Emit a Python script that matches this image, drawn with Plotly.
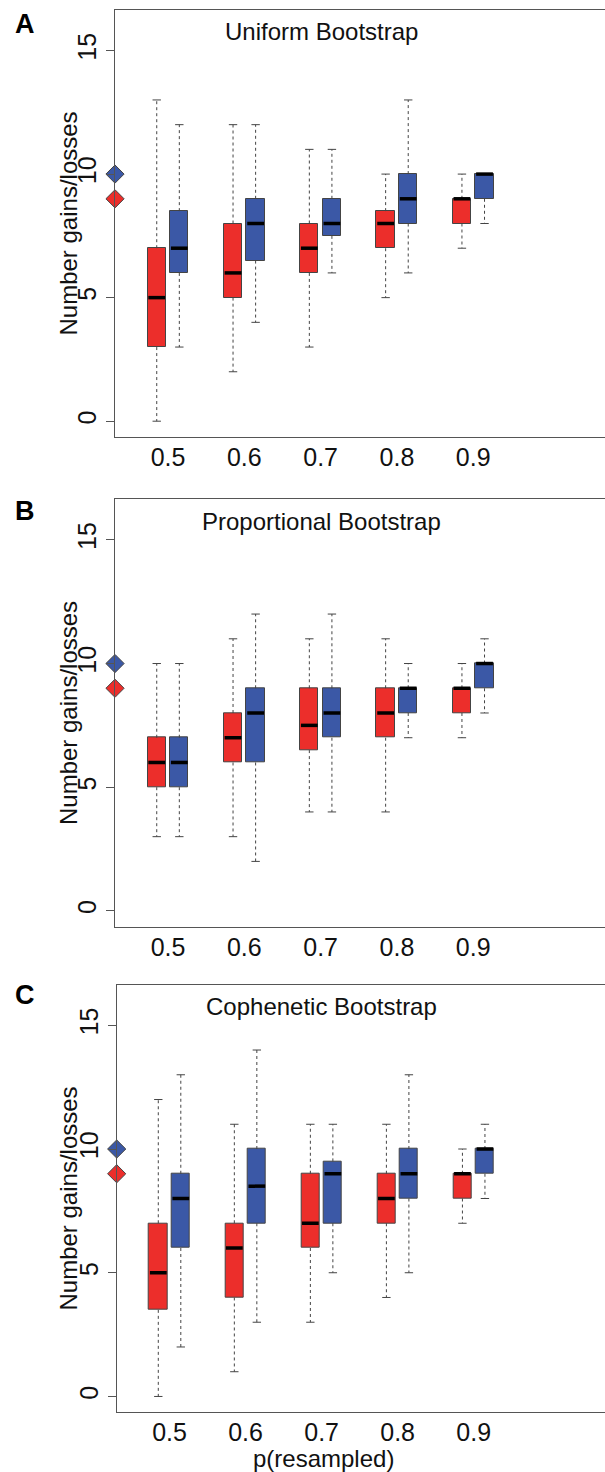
import plotly.graph_objects as go

# ---------------- data ----------------
groups = ["0.5", "0.6", "0.7", "0.8", "0.9"]
panel_titles = ["Uniform Bootstrap", "Proportional Bootstrap", "Cophenetic Bootstrap"]
panel_letters = ["A", "B", "C"]

# Uniform bootstrap (A)
A_red_min = [0, 2, 3, 5, 7]
A_red_q1 = [3, 5, 6, 7, 8]
A_red_med = [5, 6, 7, 8, 9]
A_red_q3 = [7, 8, 8, 8.5, 9]
A_red_max = [13, 12, 11, 10, 10]
A_blue_min = [3, 4, 6, 6, 8]
A_blue_q1 = [6, 6.5, 7.5, 8, 9]
A_blue_med = [7, 8, 8, 9, 10]
A_blue_q3 = [8.5, 9, 9, 10, 10]
A_blue_max = [12, 12, 11, 13, 10]

# Proportional bootstrap (B)
B_red_min = [3, 3, 4, 4, 7]
B_red_q1 = [5, 6, 6.5, 7, 8]
B_red_med = [6, 7, 7.5, 8, 9]
B_red_q3 = [7, 8, 9, 9, 9]
B_red_max = [10, 11, 11, 11, 10]
B_blue_min = [3, 2, 4, 7, 8]
B_blue_q1 = [5, 6, 7, 8, 9]
B_blue_med = [6, 8, 8, 9, 10]
B_blue_q3 = [7, 9, 9, 9, 10]
B_blue_max = [10, 12, 12, 10, 11]

# Cophenetic bootstrap (C)
C_red_min = [0, 1, 3, 4, 7]
C_red_q1 = [3.5, 4, 6, 7, 8]
C_red_med = [5, 6, 7, 8, 9]
C_red_q3 = [7, 7, 9, 9, 9]
C_red_max = [12, 11, 11, 11, 10]
C_blue_min = [2, 3, 5, 5, 8]
C_blue_q1 = [6, 7, 7, 8, 9]
C_blue_med = [8, 8.5, 9, 9, 10]
C_blue_q3 = [9, 10, 9.5, 10, 10]
C_blue_max = [13, 14, 11, 13, 11]

# reference values shown as diamonds on the y axis
ref_red = 9
ref_blue = 10

panels = [
    dict(red=(A_red_min, A_red_q1, A_red_med, A_red_q3, A_red_max),
         blue=(A_blue_min, A_blue_q1, A_blue_med, A_blue_q3, A_blue_max)),
    dict(red=(B_red_min, B_red_q1, B_red_med, B_red_q3, B_red_max),
         blue=(B_blue_min, B_blue_q1, B_blue_med, B_blue_q3, B_blue_max)),
    dict(red=(C_red_min, C_red_q1, C_red_med, C_red_q3, C_red_max),
         blue=(C_blue_min, C_blue_q1, C_blue_med, C_blue_q3, C_blue_max)),
]

# ---------------- style ----------------
W, H = 605, 1472
RED = "#EC2E2B"
BLUE = "#3B58A6"
EDGE = "#444444"
AXC = "#555555"
FONT = "Liberation Sans, Arial, Helvetica, sans-serif"
OFFSET = 0.148
BOXW = 0.24
CAPW = 0.055
XRANGE = [0.305, 6.727]
YRANGE = [-0.64, 16.64]

# pixel layout of each panel (top, bottom, left)
panel_px = [(10, 437, 115), (499.3, 926.7, 115), (984.7, 1412.3, 116.7)]
title_y_px = [32, 521.7, 1006.7]
letter_y_px = [24, 511, 995]

fig = go.Figure()

for p, (pan, (top, bot, left)) in enumerate(zip(panels, panel_px)):
    xa = "x" if p == 0 else f"x{p+1}"
    ya = "y" if p == 0 else f"y{p+1}"
    for key, color, off in (("red", RED, -OFFSET), ("blue", BLUE, OFFSET)):
        mn, q1, md, q3, mx = pan[key]
        xs = [i + 1 + off for i in range(len(groups))]
        # boxes
        fig.add_trace(go.Bar(
            x=xs, y=[b - a for a, b in zip(q1, q3)], base=q1, width=BOXW,
            marker=dict(color=color, line=dict(color=EDGE, width=1)),
            xaxis=xa, yaxis=ya, showlegend=False, hoverinfo="skip"))
        # dashed whiskers
        wx, wy = [], []
        for x, a, b, c, d in zip(xs, mn, q1, q3, mx):
            if d > c:
                wx += [x, x, None]; wy += [c, d, None]
            if b > a:
                wx += [x, x, None]; wy += [b, a, None]
        fig.add_trace(go.Scatter(
            x=wx, y=wy, mode="lines", line=dict(color="#444444", width=1, dash="3px,3px"),
            xaxis=xa, yaxis=ya, showlegend=False, hoverinfo="skip"))
        # caps
        cx, cy = [], []
        for x, a, b, c, d in zip(xs, mn, q1, q3, mx):
            if d > c:
                cx += [x - CAPW, x + CAPW, None]; cy += [d, d, None]
            if b > a:
                cx += [x - CAPW, x + CAPW, None]; cy += [a, a, None]
        fig.add_trace(go.Scatter(
            x=cx, y=cy, mode="lines", line=dict(color=EDGE, width=1),
            xaxis=xa, yaxis=ya, showlegend=False, hoverinfo="skip"))
        # medians
        mxs, mys = [], []
        for x, m in zip(xs, md):
            mxs += [x - BOXW / 2 + 0.01, x + BOXW / 2 - 0.01, None]; mys += [m, m, None]
        fig.add_trace(go.Scatter(
            x=mxs, y=mys, mode="lines", line=dict(color="black", width=3.5),
            xaxis=xa, yaxis=ya, showlegend=False, hoverinfo="skip"))
    # diamonds on the y axis
    fig.add_trace(go.Scatter(
        x=[XRANGE[0], XRANGE[0]], y=[ref_blue, ref_red], mode="markers",
        marker=dict(symbol="diamond", size=14, color=[BLUE, RED],
                    line=dict(color=EDGE, width=1)),
        cliponaxis=False, xaxis=xa, yaxis=ya, showlegend=False, hoverinfo="skip"))

    xdom = [left / W, 1.0]
    ydom = [1 - bot / H, 1 - top / H]
    xkw = dict(domain=xdom, range=XRANGE, tickmode="array",
               tickvals=[i + 1 for i in range(len(groups))], ticktext=groups,
               showline=True, linecolor=AXC, linewidth=1.2, mirror=True,
               ticks="", showgrid=False, zeroline=False,
               tickfont=dict(family=FONT, size=25, color="#111"),
               anchor=ya, ticklabelstandoff=-2)
    ykw = dict(domain=ydom, range=YRANGE, tickmode="array", tickvals=[0, 5, 10, 15],
               ticktext=["0", "5", "10", "15"], tickangle=-90,
               showline=True, linecolor=AXC, linewidth=1.2, mirror=False,
               ticks="outside", ticklen=8, tickcolor=AXC, showgrid=False, zeroline=False,
               tickfont=dict(family=FONT, size=25, color="#111"),
               anchor=xa)
    fig.update_layout(**{("xaxis" if p == 0 else f"xaxis{p+1}"): xkw,
                         ("yaxis" if p == 0 else f"yaxis{p+1}"): ykw})

    # y-axis title
    fig.add_annotation(text="Number gains/losses", x=68 / W, y=1 - (top + bot) / 2 / H,
                       xref="paper", yref="paper", showarrow=False, textangle=-90,
                       xanchor="center", yanchor="middle",
                       font=dict(family=FONT, size=24, color="#111"))
    # panel title
    fig.add_annotation(text=panel_titles[p], x=321 / W, y=1 - title_y_px[p] / H,
                       xref="paper", yref="paper", showarrow=False,
                       xanchor="center", yanchor="middle",
                       font=dict(family=FONT, size=24, color="#111"))
    # panel letter
    fig.add_annotation(text="<b>" + panel_letters[p] + "</b>", x=25 / W, y=1 - letter_y_px[p] / H,
                       xref="paper", yref="paper", showarrow=False,
                       xanchor="center", yanchor="middle",
                       font=dict(family=FONT, size=27, color="#000"))

fig.add_annotation(text="p(resampled)", x=323 / W, y=1 - 1458 / H,
                   xref="paper", yref="paper", showarrow=False,
                   xanchor="center", yanchor="middle",
                   font=dict(family=FONT, size=24, color="#111"))

fig.update_layout(width=W, height=H, margin=dict(l=0, r=0, t=0, b=0),
                  paper_bgcolor="white", plot_bgcolor="white",
                  barmode="overlay", bargap=0, showlegend=False)

fig.write_html("out.html", config={"displayModeBar": False},
               post_script="document.body.style.margin='0';document.body.style.padding='0';")
